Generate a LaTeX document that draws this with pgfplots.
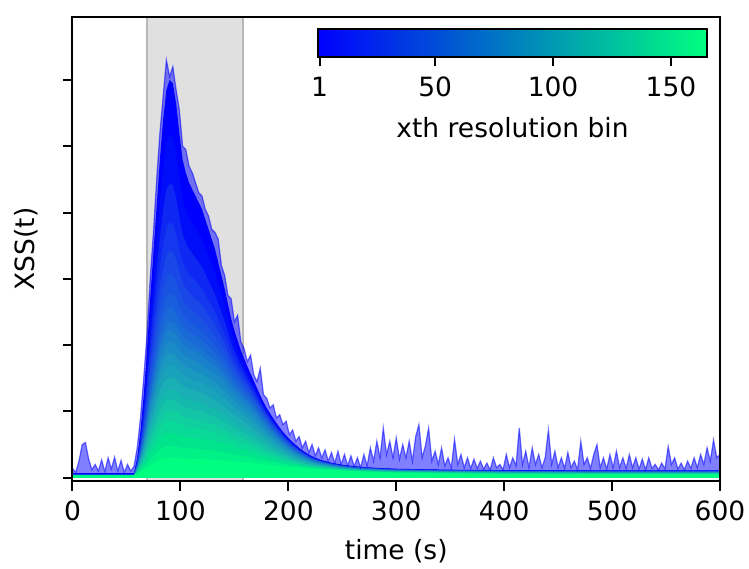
\documentclass[border=0pt]{standalone}
\usepackage{pgfplots}
\pgfplotsset{compat=1.18}
\usepackage{pgfplotstable}
\usepackage{fontspec}
\setmainfont{DejaVu Sans}
\definecolor{wA}{rgb}{0,0,1}
\definecolor{wB}{rgb}{0,1,0.5}
\definecolor{spanfill}{rgb}{0.878,0.878,0.878}
\definecolor{spanedge}{rgb}{0.72,0.72,0.72}

% envelope of the first bin (top), floor common to all bins (h), broad part (q)
\pgfplotstableread{
t top h q
0 0.07 0.03 0
57 0.07 0.03 0
60 0.30 0.05 0.12
63 0.70 0.06 0.30
66 1.25 0.07 0.50
69 1.90 0.075 0.80
72 2.70 0.08 1.10
75 3.40 0.085 1.35
78 4.10 0.09 1.60
81 4.80 0.095 1.80
84 5.40 0.10 1.90
87 5.85 0.10 2.00
90 6.00 0.10 2.00
93 5.95 0.10 2.00
96 5.65 0.10 2.00
99 5.20 0.10 1.98
102 4.80 0.10 1.96
105 4.60 0.10 1.94
108 4.45 0.105 1.92
111 4.35 0.105 1.90
114 4.25 0.105 1.88
117 4.15 0.11 1.86
120 4.05 0.11 1.84
123 3.90 0.11 1.81
126 3.75 0.11 1.78
129 3.60 0.115 1.75
132 3.45 0.115 1.72
135 3.25 0.115 1.68
138 3.05 0.115 1.64
141 2.85 0.12 1.60
144 2.62 0.12 1.55
147 2.40 0.12 1.50
150 2.22 0.12 1.45
153 2.07 0.12 1.40
156 1.92 0.122 1.35
159 1.80 0.122 1.30
162 1.68 0.123 1.25
165 1.57 0.124 1.19
168 1.46 0.125 1.12
171 1.35 0.126 1.05
174 1.24 0.127 0.98
177 1.14 0.127 0.90
180 1.05 0.128 0.83
185 0.92 0.129 0.71
190 0.80 0.13 0.61
195 0.69 0.13 0.51
200 0.60 0.13 0.42
205 0.52 0.128 0.35
210 0.45 0.125 0.29
215 0.39 0.122 0.24
220 0.34 0.12 0.195
225 0.30 0.117 0.16
230 0.27 0.115 0.135
240 0.225 0.11 0.10
250 0.195 0.10 0.08
260 0.175 0.092 0.07
270 0.16 0.085 0.063
285 0.145 0.077 0.055
300 0.135 0.07 0.052
350 0.12 0.06 0.048
400 0.115 0.05 0.05
500 0.11 0.045 0.05
600 0.11 0.045 0.05
}\tblS

% noisy first bin (blue)
\pgfplotstableread{
t n
0 0.14
3 0.08
6 0.25
9 0.50
12 0.53
15 0.28
18 0.12
21 0.20
24 0.10
27 0.27
30 0.09
33 0.30
36 0.13
39 0.31
42 0.10
45 0.26
48 0.08
51 0.20
54 0.10
57 0.17
60 0.45
63 0.90
66 1.50
69 2.15
72 3.00
75 3.70
78 4.50
81 5.20
84 5.75
87 6.30
90 6.05
93 6.20
96 5.85
99 5.55
102 5.00
105 4.95
108 4.70
111 4.60
114 4.45
117 4.30
120 4.25
123 4.05
126 3.95
129 3.75
132 3.70
135 3.60
138 3.20
141 3.05
144 2.75
147 2.70
150 2.35
153 2.45
156 2.05
159 1.95
162 1.75
165 1.85
168 1.55
171 1.45
174 1.65
177 1.25
180 1.20
183 1.05
186 1.10
189 0.90
192 0.95
195 0.80
198 0.85
201 0.65
204 0.72
207 0.55
210 0.62
213 0.45
216 0.55
219 0.38
222 0.50
225 0.33
228 0.45
231 0.30
234 0.42
237 0.25
240 0.38
243 0.22
246 0.40
249 0.20
252 0.35
255 0.18
258 0.33
261 0.17
264 0.30
267 0.15
270 0.35
273 0.18
276 0.45
279 0.25
282 0.55
285 0.30
288 0.75
291 0.35
294 0.55
297 0.30
300 0.60
303 0.28
306 0.50
309 0.30
312 0.55
315 0.25
318 0.62
321 0.80
324 0.30
327 0.48
330 0.75
333 0.25
336 0.40
339 0.20
342 0.45
345 0.18
348 0.30
351 0.15
354 0.58
357 0.20
360 0.35
363 0.15
366 0.30
369 0.14
372 0.28
375 0.14
378 0.25
381 0.13
384 0.22
387 0.12
390 0.30
393 0.15
396 0.20
399 0.12
402 0.35
405 0.15
408 0.30
411 0.18
414 0.75
417 0.20
420 0.40
423 0.15
426 0.45
429 0.20
432 0.35
435 0.15
438 0.30
441 0.72
444 0.20
447 0.40
450 0.15
453 0.30
456 0.14
459 0.38
462 0.15
465 0.25
468 0.12
471 0.55
474 0.20
477 0.30
480 0.14
483 0.35
486 0.50
489 0.15
492 0.30
495 0.13
498 0.35
501 0.15
504 0.40
507 0.15
510 0.30
513 0.14
516 0.35
519 0.15
522 0.30
525 0.13
528 0.28
531 0.12
534 0.30
537 0.14
540 0.20
543 0.12
546 0.22
549 0.13
552 0.47
555 0.20
558 0.30
561 0.13
564 0.22
567 0.12
570 0.25
573 0.14
576 0.30
579 0.15
582 0.35
585 0.20
588 0.45
591 0.25
594 0.57
597 0.30
600 0.35
}\tblN

% one bin: #1 = share of the peaked part, #2 = share of the broad part, #3 = % green, #4 = % colour (rest white)
\newcommand{\band}[4]{\addplot[draw=none, fill=wB!#3!wA!#4!white, forget plot]
  table[x=t, y expr=\thisrow{h}+#1*(\thisrow{top}-\thisrow{h}-\thisrow{q})+#2*\thisrow{q}] {\tblS} \closedcycle;}

\begin{document}
\begin{tikzpicture}[font=\fontsize{26.5}{31}\selectfont]
\begin{axis}[name=main, at={(0,0)}, anchor=south west,
  scale only axis, width=647.5pt, height=464pt,
  xmin=0, xmax=600, ymin=-0.05, ymax=6.95,
  xtick={0,100,...,600}, xticklabels={0,100,200,300,400,500,600},
  ytick={0,1,2,3,4,5,6}, yticklabels={},
  tick pos=left, tick align=outside, major tick length=9.5pt,
  every tick/.style={black, line width=2pt},
  axis line style={black, line width=2pt},
  xticklabel style={yshift=-7pt},
  axis on top,
  xlabel={time (s)}, ylabel={XSS(t)},
  xlabel style={at={(axis description cs:0.5,-0.170)}, anchor=base},
  ylabel style={at={(axis description cs:-0.058,0.5)}, anchor=base},
  clip=true]
  \fill[spanfill] (axis cs:69,-0.05) rectangle (axis cs:158,6.95);
  \draw[spanedge, line width=2pt] (axis cs:69,-0.05) -- (axis cs:69,6.95);
  \draw[spanedge, line width=2pt] (axis cs:158,-0.05) -- (axis cs:158,6.95);
  \addplot[draw=none, fill=blue, fill opacity=0.5, forget plot] table[x=t,y=n] {\tblN} \closedcycle;
  \band{1}{1}{0}{100}
  \band{0.80}{0.98}{5}{100}
  \band{0.62}{0.96}{10}{94}
  \band{0.48}{0.94}{15}{92}
  \band{0.38}{0.92}{20}{90}
  \band{0.30}{0.90}{25}{90}
  \band{0.24}{0.87}{30}{90}
  \band{0.20}{0.84}{35}{90}
  \band{0.17}{0.80}{40}{90}
  \band{0.15}{0.77}{45}{90}
  \band{0.13}{0.72}{50}{90}
  \band{0.115}{0.66}{55}{90}
  \band{0.10}{0.60}{60}{90}
  \band{0.09}{0.53}{65}{90}
  \band{0.08}{0.46}{70}{92}
  \band{0.07}{0.40}{75}{92}
  \band{0.06}{0.34}{80}{94}
  \band{0.05}{0.28}{85}{96}
  \band{0.035}{0.22}{90}{100}
  \band{0.02}{0.15}{95}{100}
  \band{0.01}{0.08}{100}{100}
  \band{0}{0}{100}{100}
  \addplot[blue, opacity=0.55, line width=1.2pt, forget plot] table[x=t,y=n] {\tblN};
\end{axis}
\begin{axis}[name=cb, at={(245.5pt,424pt)}, anchor=south west,
  scale only axis, width=389pt, height=28pt,
  xmin=0.3, xmax=165.3, ymin=0, ymax=1,
  ytick=\empty, xtick={1,50,100,150}, xticklabels={1,50,100,150},
  tick pos=left, tick align=outside, major tick length=9.5pt,
  every tick/.style={black, line width=2pt},
  axis line style={black, line width=2pt},
  xticklabel style={yshift=-7pt},
  axis on top,
  xlabel={xth resolution bin},
  xlabel style={at={(axis description cs:0.5,-2.89)}, anchor=base}]
  \path[left color=wA, right color=wB] (axis cs:0.3,0) rectangle (axis cs:165.3,1);
\end{axis}
\pgfresetboundingbox
\path (-72.5pt,-87pt) rectangle (676.5pt,481pt);
\end{tikzpicture}
\end{document}
